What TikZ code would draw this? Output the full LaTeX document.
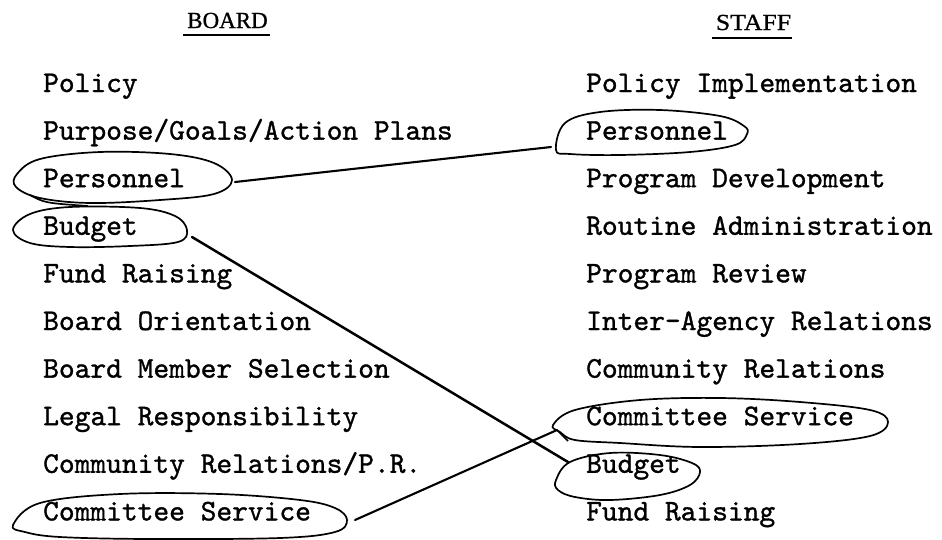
\documentclass[tikz,border=0pt]{standalone}
\usepackage{fontspec}
\usepackage{graphicx}
\newfontfamily\typewriter{lmmono10-regular.otf}[FakeBold=1.1]
\newfontfamily\headfont{Liberation Serif}[FakeBold=0.8]
\begin{document}
\begin{tikzpicture}[x=1pt,y=-1pt,
  entry/.style={anchor=base west, inner sep=0pt, font=\typewriter\fontsize{30}{36}\selectfont},
  heading/.style={anchor=base, inner sep=0pt, font=\headfont\fontsize{23}{28}\selectfont},
  rule/.style={line width=1.3pt},
  oval/.style={line width=1.7pt, line join=round},
  link/.style={line width=2.1pt, line cap=round}]
\useasboundingbox[fill=white] (0,0) rectangle (942,539);

% column headings
\node[heading] (hb) at (227.5,28) {BOARD};
\node[heading] (hs) at (753.5,30) {\scalebox{1.12}[1]{STAFF}};
\draw[rule] ([xshift=-4pt,yshift=-7pt]hb.base west) -- ([xshift=2pt,yshift=-7pt]hb.base east);
\draw[rule] ([xshift=-4pt,yshift=-8pt]hs.base west) -- ([xshift=1pt,yshift=-8pt]hs.base east);

% board duties
\node[entry] (b0) at (43,92)    {Policy};
\node[entry] (b1) at (43,139.6) {Purpose/Goals/Action Plans};
\node[entry] (b2) at (43,187.2) {Personnel};
\node[entry] (b3) at (43,234.8) {Budget};
\node[entry] (b4) at (43,282.4) {Fund Raising};
\node[entry] (b5) at (43,330)   {Board Orientation};
\node[entry] (b6) at (43,377.6) {Board Member Selection};
\node[entry] (b7) at (43,425.2) {Legal Responsibility};
\node[entry] (b8) at (43,472.8) {Community Relations/P.R.};
\node[entry] (b9) at (43,520.4) {Committee Service};

% staff duties
\node[entry] (s0) at (586,92)    {Policy Implementation};
\node[entry] (s1) at (586,139.6) {Personnel};
\node[entry] (s2) at (586,187.2) {Program Development};
\node[entry] (s3) at (586,234.8) {Routine Administration};
\node[entry] (s4) at (586,282.4) {Program Review};
\node[entry] (s5) at (586,330)   {Inter-Agency Relations};
\node[entry] (s6) at (586,377.6) {Community Relations};
\node[entry] (s7) at (586,425.2) {Committee Service};
\node[entry] (s8) at (586,472.8) {Budget};
\node[entry] (s9) at (586,520.4) {Fund Raising};

% hand-drawn rings round the shared duties
\draw[oval] plot[smooth cycle, tension=0.6] coordinates
  {(17,174) (40,159) (100,152) (170,154) (214,163) (232,180) (214,194) (160,200) (90,203) (40,198) (16,187)};
\draw[oval] (30,195) .. controls (45,203) .. (88,206);
\draw[oval] plot[smooth cycle, tension=0.6] coordinates
  {(13,230) (30,214) (70,207) (140,208) (175,216) (187,230) (178,242) (130,246) (70,247) (30,243)};
\draw[oval] plot[smooth cycle, tension=0.6] coordinates
  {(556,150) (565,123) (600,112) (660,110) (720,116) (744,126) (747,134) (735,145) (690,152) (620,155) (570,154)};
\draw[oval] plot[smooth cycle, tension=0.6] coordinates
  {(553,425) (575,410) (640,400) (720,398) (800,402) (870,410) (888,422) (870,436) (800,444) (700,447) (620,443) (575,440) (560,432)};
\draw[oval] (557,430) -- (568,441);
\draw[oval] plot[smooth cycle, tension=0.6] coordinates
  {(556,480) (570,462) (610,453) (660,455) (692,463) (700,472) (690,485) (660,495) (610,500) (575,497) (558,490)};
\draw[oval] plot[smooth cycle, tension=0.6] coordinates
  {(13,525) (40,503) (120,494) (220,494) (300,500) (335,508) (347,520) (335,532) (280,538) (150,539) (60,537) (25,532)};

% ends of the connecting strokes on the rings
\coordinate (bpers) at (235,182);
\coordinate (spers) at (551,147);
\coordinate (bbud)  at (192,237);
\coordinate (sbud)  at (568,462);
\coordinate (bcom)  at (355,520);
\coordinate (scom)  at (557,430);

\draw[link] (bpers) -- (spers);
\draw[link, line width=2.5pt] (bbud) -- (sbud);
\draw[link] (bcom) -- (scom);
\end{tikzpicture}
\end{document}
